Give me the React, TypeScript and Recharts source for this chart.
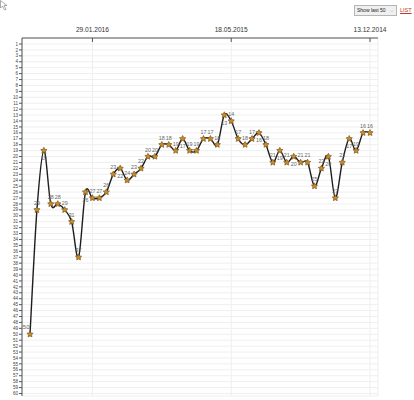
import React from 'react';
import { LineChart, Line, XAxis, YAxis, CartesianGrid } from 'recharts';

// Rank positions for the last 50 entries (lower = better, axis reversed)
const positions: number[] = [
  50, 29, 19, 28, 28, 29, 31, 37, 26, 27,
  27, 26, 23, 22, 24, 23, 22, 20, 20, 18,
  18, 19, 17, 19, 19, 17, 17, 18, 13, 14,
  17, 18, 17, 16, 18, 21, 19, 21, 20, 21,
  21, 25, 22, 20, 27, 21, 17, 19, 16, 16,
];

const xTickIndices: number[] = [9, 29, 49];
const xTickLabels: string[] = ['29.01.2016', '18.05.2015', '13.12.2014'];
const yTicks: number[] = Array.from({ length: 60 }, (_, k) => k + 1);

const data = positions.map((pos, i) => ({ i, pos }));

// Catmull-Rom (cardinal, tension 0) curve factory compatible with d3 line()
const catmullRom = (context: any) => {
  let pts: [number, number][] = [];
  return {
    areaStart() {},
    areaEnd() {},
    lineStart() {
      pts = [];
    },
    point(x: number, y: number) {
      pts.push([+x, +y]);
    },
    lineEnd() {
      const n = pts.length;
      if (n === 0) return;
      context.moveTo(pts[0][0], pts[0][1]);
      if (n === 1) return;
      for (let k = 0; k < n - 1; k++) {
        const p0 = pts[k - 1] || pts[k];
        const p1 = pts[k];
        const p2 = pts[k + 1];
        const p3 = pts[k + 2] || pts[k + 1];
        const c1x = p1[0] + (p2[0] - p0[0]) / 6;
        const c1y = p1[1] + (p2[1] - p0[1]) / 6;
        const c2x = p2[0] - (p3[0] - p1[0]) / 6;
        const c2y = p2[1] - (p3[1] - p1[1]) / 6;
        context.bezierCurveTo(c1x, c1y, c2x, c2y, p2[0], p2[1]);
      }
    },
  };
};

const starPoints = (cx: number, cy: number, r: number) => {
  const out: string[] = [];
  for (let k = 0; k < 10; k++) {
    const rad = k % 2 === 0 ? r : r * 0.5;
    const a = -Math.PI / 2 + (k * Math.PI) / 5;
    out.push(`${(cx + rad * Math.cos(a)).toFixed(2)},${(cy + rad * Math.sin(a)).toFixed(2)}`);
  }
  return out.join(' ');
};

const StarDot = (props: any) => {
  const { cx, cy, index } = props;
  if (cx == null || cy == null) return null;
  const v = positions[index];
  const prev = index > 0 ? positions[index - 1] : Infinity;
  const next = index < positions.length - 1 ? positions[index + 1] : Infinity;
  const below = v < prev && v < next;
  const first = index === 0;
  return (
    <g key={`d-${index}`}>
      <polygon
        points={starPoints(cx, cy, 3.3)}
        fill="#c98a2a"
        stroke="#6b4a14"
        strokeWidth={0.6}
      />
      <text
        x={first ? cx - 0.5 : cx}
        y={below ? cy + 9.5 : cy - 5}
        textAnchor={first ? 'end' : 'middle'}
        fontSize={first ? 6 : 5.4}
        fill="#666"
        fontFamily="'Liberation Sans', Arial, sans-serif"
      >
        {v}
      </text>
    </g>
  );
};

const TopTick = (props: any) => {
  const { x, y, payload } = props;
  const idx = xTickIndices.indexOf(payload.value);
  return (
    <g>
      <line x1={x} x2={x} y1={y} y2={y + 4} stroke="#555" strokeWidth={1} />
      <text
        x={x}
        y={y - 6}
        textAnchor="middle"
        fontSize={6.6}
        fill="#333"
        fontFamily="'Liberation Sans', Arial, sans-serif"
      >
        {idx >= 0 ? xTickLabels[idx] : ''}
      </text>
    </g>
  );
};

export default function App() {
  return (
    <div
      style={{
        position: 'absolute',
        left: 0,
        top: 0,
        width: 414,
        height: 400,
        background: '#fff',
        overflow: 'hidden',
      }}
    >
      <svg width={10} height={12} style={{ position: 'absolute', left: 0, top: 0 }}>
        <path d="M0.5,0.5 L0.5,8 L2.5,6 L4.5,10 L6,9.3 L4,5.5 L7,5.5 Z" fill="#fff" stroke="#888" strokeWidth={0.7} />
      </svg>
      <div
        style={{
          position: 'absolute',
          left: 354,
          top: 5,
          width: 43,
          height: 11,
          border: '1px solid #b5b5b5',
          background: '#f0f0f0',
          boxSizing: 'border-box',
          fontFamily: "'Liberation Sans', Arial, sans-serif",
          fontSize: 5,
          lineHeight: '9px',
          color: '#222',
          paddingLeft: 2,
          whiteSpace: 'nowrap',
          overflow: 'hidden',
        }}
      >
        Show last 50
        <span style={{ position: 'absolute', right: 2, top: 0, color: '#666', fontSize: 5 }}>⌵</span>
      </div>
      <div
        style={{
          position: 'absolute',
          left: 400,
          top: 7,
          fontFamily: "'Liberation Sans', Arial, sans-serif",
          fontSize: 5.5,
          color: '#c0392b',
          textDecoration: 'underline',
        }}
      >
        LIST
      </div>
      <div style={{ position: 'absolute', left: 0, top: 0 }}>
        <LineChart
          width={414}
          height={400}
          data={data}
          margin={{ top: 0, right: 36, bottom: 4, left: 0 }}
        >
          <CartesianGrid
            stroke="#efefef"
            strokeWidth={1}
            horizontal={true}
            vertical={true}
          />
          <XAxis
            dataKey="i"
            type="number"
            domain={[0, 49]}
            orientation="top"
            ticks={xTickIndices}
            interval={0}
            height={38}
            tickSize={0}
            tickMargin={0}
            tickLine={false}
            tick={<TopTick />}
            padding={{ left: 8, right: 8 }}
            axisLine={{ stroke: '#555', strokeWidth: 1 }}
          />
          <YAxis
            type="number"
            domain={[1, 60]}
            reversed
            ticks={yTicks}
            interval={0}
            width={22}
            tickSize={3}
            tickMargin={1}
            padding={{ top: 6, bottom: 2.5 }}
            axisLine={{ stroke: '#555', strokeWidth: 1 }}
            tickLine={{ stroke: '#555' }}
            tick={{ fontSize: 4.6, fill: '#444', fontFamily: "'Liberation Sans', Arial, sans-serif" }}
          />
          <Line
            dataKey="pos"
            type={catmullRom as any}
            stroke="#1e1e1e"
            strokeWidth={1.4}
            dot={<StarDot />}
            activeDot={false}
            isAnimationActive={false}
          />
        </LineChart>
      </div>
    </div>
  );
}
